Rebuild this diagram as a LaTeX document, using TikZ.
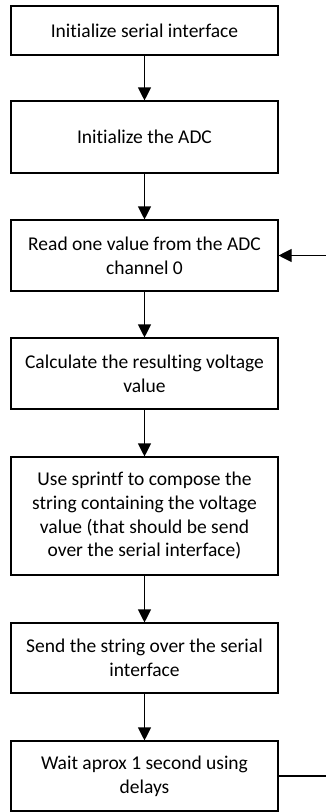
\documentclass[tikz,border=0pt]{standalone}
\usepackage{fontspec}
\setmainfont[Ligatures=NoCommon]{Carlito}
\usetikzlibrary{arrows.meta}

\begin{document}
\begin{tikzpicture}[x=1pt, y=-1pt,
	stepbox/.style={draw, line width=1.1pt, minimum width=267pt, inner sep=0pt, align=center,
		font=\fontsize{19.5}{23.7}\selectfont},
	flow/.style={line width=1.1pt, -{Triangle[length=13pt, width=13pt]}}]
	\useasboundingbox (0,0) rectangle (326,812);
	\node[stepbox, minimum height=49pt] (serial) at (144.5,30.5) {Initialize serial interface};
	\node[stepbox, minimum height=72pt] (adc) at (144.5,137) {Initialize the ADC};
	\node[stepbox, minimum height=71pt] (read) at (144.5,255.5) {Read one value from the ADC\\channel 0};
	\node[stepbox, minimum height=71pt] (calc) at (144.5,373.5) {Calculate the resulting voltage\\value};
	\node[stepbox, minimum height=118pt] (compose) at (144.5,516) {Use sprintf to compose the\\string containing the voltage\\value (that should be send\\over the serial interface)};
	\node[stepbox, minimum height=70pt] (send) at (144.5,658) {Send the string over the serial\\interface};
	\node[stepbox, minimum height=70pt] (wait) at (144.5,776) {Wait aprox 1 second using\\delays};
	\draw[flow] (serial) -- (adc);
	\draw[flow] (adc) -- (read);
	\draw[flow] (read) -- (calc);
	\draw[flow] (calc) -- (compose);
	\draw[flow] (compose) -- (send);
	\draw[flow] (send) -- (wait);
	% loop back, cut at the right edge
	\coordinate (loopin) at (326,255.5);
	\coordinate (loopout) at (326,776);
	\draw[flow] (loopin) -- (read);
	\draw[line width=1.1pt] (wait) -- (loopout);
\end{tikzpicture}
\end{document}
